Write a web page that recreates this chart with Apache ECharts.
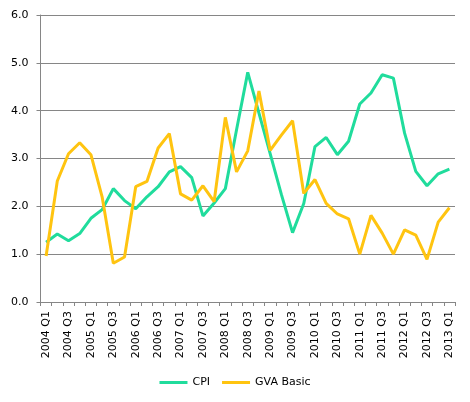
<!DOCTYPE html>
<html lang="en">
<head>
    <meta charset="UTF-8">
    <title>cpi_gva</title>
    <script src="https://cdn.jsdelivr.net/npm/echarts@6/dist/echarts.min.js"></script>
    <style>
        html,body{margin:0;padding:0;background:#fff}
        #chart{width:470px;height:402px}
    </style>
</head>
<body>
    <div id="chart"></div>
    <script>
        // quarters 2004 Q1 .. 2013 Q1
        var quarters = [];
        for (var y = 2004; y <= 2013; y++) {
            for (var q = 1; q <= 4; q++) {
                if (y === 2013 && q > 1) break;
                quarters.push(y + ' Q' + q);
            }
        }
        var cpi = [1.25, 1.42, 1.28, 1.43, 1.75, 1.93, 2.37, 2.12, 1.95, 2.20, 2.41, 2.72, 2.83, 2.60,
                   1.80, 2.07, 2.37, 3.60, 4.80, 3.95, 3.10, 2.25, 1.45, 2.06, 3.25, 3.44, 3.08, 3.36,
                   4.14, 4.37, 4.75, 4.68, 3.53, 2.73, 2.43, 2.68, 2.78];
        var gva = [0.96, 2.53, 3.10, 3.33, 3.08, 2.20, 0.81, 0.94, 2.41, 2.52, 3.22, 3.52, 2.26, 2.13,
                   2.43, 2.10, 3.86, 2.72, 3.16, 4.41, 3.17, 3.49, 3.79, 2.27, 2.56, 2.06, 1.84, 1.74,
                   1.00, 1.81, 1.44, 1.00, 1.51, 1.40, 0.89, 1.67, 1.97];

        var mychart = echarts.init(document.getElementById('chart'));
        var font = 'DejaVu Sans';
        var option = {
            animation: false,
            textStyle: {fontFamily: font},
            grid: {left: 40.5, right: 15, top: 15, bottom: 100},
            legend: {
                bottom: 9,
                left: 'center',
                icon: 'rect',
                itemWidth: 28,
                itemHeight: 3,
                itemGap: 12,
                textStyle: {fontFamily: font, fontSize: 11, color: '#000'},
                data: ['CPI', 'GVA Basic']
            },
            xAxis: {
                type: 'category',
                data: quarters,
                boundaryGap: true,
                axisLine: {lineStyle: {color: '#868686', width: 1}},
                axisTick: {show: true, interval: 0, length: 4, lineStyle: {color: '#868686'}},
                axisLabel: {
                    interval: 1,
                    rotate: 90,
                    margin: 9,
                    fontFamily: font,
                    fontSize: 11,
                    color: '#000'
                }
            },
            yAxis: {
                type: 'value',
                min: 0,
                max: 6,
                interval: 1,
                axisLine: {show: true, lineStyle: {color: '#868686', width: 1}},
                axisTick: {show: true, length: 4, lineStyle: {color: '#868686'}},
                splitLine: {lineStyle: {color: '#868686', width: 1}},
                axisLabel: {
                    margin: 12,
                    fontFamily: font,
                    fontSize: 11,
                    color: '#000',
                    formatter: function (v) { return v.toFixed(1); }
                }
            },
            series: [
                {
                    name: 'CPI',
                    type: 'line',
                    data: cpi,
                    symbol: 'none',
                    color: '#20dc9c',
                    lineStyle: {width: 3, color: '#20dc9c'}
                },
                {
                    name: 'GVA Basic',
                    type: 'line',
                    data: gva,
                    symbol: 'none',
                    color: '#ffc410',
                    lineStyle: {width: 3, color: '#ffc410'}
                }
            ]
        };
        mychart.setOption(option);
    </script>
</body>
</html>
